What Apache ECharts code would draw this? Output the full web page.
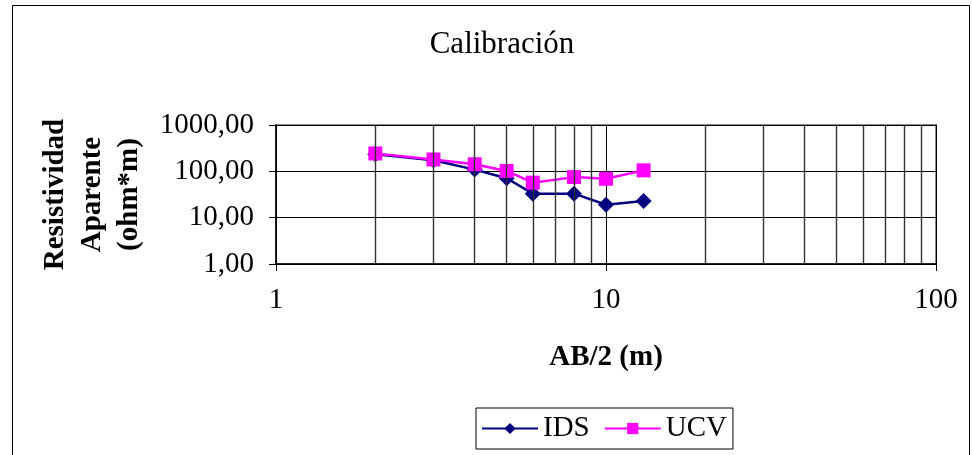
<!DOCTYPE html>
<html>
<head>
<meta charset="utf-8">
<script src="https://cdn.jsdelivr.net/npm/echarts@6/dist/echarts.min.js"></script>
<style>
  html, body { margin: 0; padding: 0; background: #fff; }
  #chart { width: 972px; height: 455px; }
</style>
</head>
<body>
<div id="chart"></div>
<script>
// Electrode half-spacing AB/2 (m)
const spacing = [2, 3, 4, 5, 6, 8, 10, 13];
// Apparent resistivity (ohm*m) per source
const idsValues = [234, 173, 109, 71, 33, 33, 19, 23];
const ucvValues = [243, 180, 142, 102, 57, 75, 69, 105];
// Intermediate log-cycle grid positions on the x axis
const minorGrid = [2, 3, 4, 5, 6, 7, 8, 9, 20, 30, 40, 50, 60, 70, 80, 90];

const serif = '"Liberation Serif", "Times New Roman", serif';
const pairs = v => spacing.map((x, i) => [x, v[i]]);

const chart = echarts.init(document.getElementById('chart'));
chart.setOption({
  animation: false,
  backgroundColor: '#fff',
  textStyle: { fontFamily: serif },
  title: {
    text: 'Calibración',
    left: 497, top: 24, textAlign: 'center',
    textStyle: { fontFamily: serif, fontSize: 31, fontWeight: 'normal', color: '#000' }
  },
  graphic: [{
    type: 'rect', silent: true, z: -1,
    shape: { x: 12.5, y: 5.5, width: 957, height: 460 },
    style: { fill: 'none', stroke: '#000', lineWidth: 1 }
  }],
  grid: {
    left: 276, right: 36, top: 125, bottom: 191,
    show: true, borderColor: '#8c8c8c', borderWidth: 2, backgroundColor: 'transparent'
  },
  legend: {
    left: 476, top: 408, width: 261,
    padding: [6, 6, 6, 5],
    borderColor: '#000', borderWidth: 1,
    itemGap: 14, itemWidth: 56, itemHeight: 14,
    textStyle: { fontFamily: serif, fontSize: 29, color: '#000' },
    data: ['IDS', 'UCV']
  },
  xAxis: {
    type: 'log', logBase: 10, min: 1, max: 100,
    name: 'AB/2 (m)', nameLocation: 'middle', nameGap: 79,
    nameTextStyle: { fontFamily: serif, fontSize: 29, fontWeight: 'bold', color: '#000' },
    axisLine: { lineStyle: { color: '#000', width: 1.5 } },
    axisTick: { show: true, length: 7, lineStyle: { color: '#000' } },
    axisLabel: { fontFamily: serif, fontSize: 29, color: '#000', margin: 22 },
    splitLine: { show: true, lineStyle: { color: '#000', width: 1 } }
  },
  yAxis: {
    type: 'log', logBase: 10, min: 1, max: 1000,
    name: 'Resistividad\nAparente\n(ohm*m)', nameLocation: 'middle', nameGap: 128,
    nameRotate: 90,
    nameTextStyle: { fontFamily: serif, fontSize: 29, fontWeight: 'bold', color: '#000', lineHeight: 37, align: 'center' },
    axisLine: { show: true, lineStyle: { color: '#000', width: 1.5 } },
    axisTick: { show: true, length: 7, lineStyle: { color: '#000' } },
    axisLabel: {
      fontFamily: serif, fontSize: 29, color: '#000', margin: 22,
      formatter: v => Number(v).toFixed(2).replace('.', ',')
    },
    splitLine: { show: true, lineStyle: { color: '#000', width: 1 } }
  },
  series: [
    {
      name: '__grid', type: 'line', data: [], silent: true, z: 1,
      markLine: {
        silent: true, symbol: 'none', animation: false,
        label: { show: false },
        lineStyle: { color: '#333', width: 1.4, type: 'solid' },
        data: minorGrid.map(v => ({ xAxis: v }))
      }
    },
    {
      name: 'IDS', type: 'line', data: pairs(idsValues), z: 3,
      symbol: 'diamond', symbolSize: 16, showAllSymbol: true,
      itemStyle: { color: '#000080' },
      lineStyle: { color: '#000080', width: 2.5 }
    },
    {
      name: 'UCV', type: 'line', data: pairs(ucvValues), z: 4,
      symbol: 'rect', symbolSize: 14, showAllSymbol: true,
      itemStyle: { color: '#ff00ff' },
      lineStyle: { color: '#ff00ff', width: 2.5 }
    }
  ]
});
</script>
</body>
</html>
